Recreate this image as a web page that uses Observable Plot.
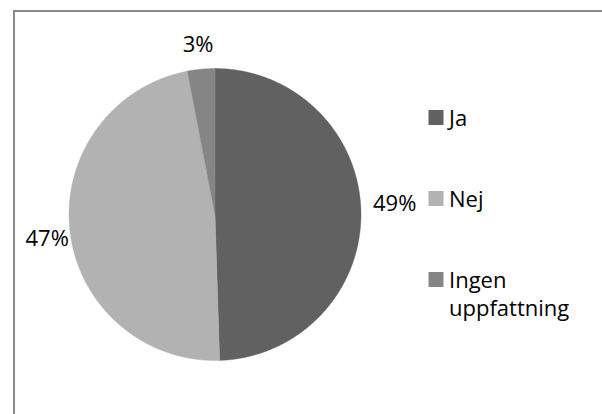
<!DOCTYPE html>
<html>
<head>
<meta charset="utf-8">
<script src="https://cdn.jsdelivr.net/npm/d3@7"></script>
<script src="https://cdn.jsdelivr.net/npm/@observablehq/plot@0.6"></script>
<style>
  body { margin: 0; background: #fff; }
  #chart { position: relative; width: 602px; height: 414px; overflow: hidden; font-family: "Open Sans", sans-serif; }
  #chart svg { position: absolute; left: 0; top: 0; }
  #frame { position: absolute; left: 13px; top: 10px; width: 700px; height: 500px; border: 2px solid #898989; }
</style>
</head>
<body>
<div id="chart"><div id="frame"></div></div>
<script>
// Survey answers and their shares (percent)
const categories = ["Ja", "Nej", "Ingen uppfattning"];
const shares = [49, 47, 3];
const colors = ["#616161", "#b2b2b2", "#858585"];

const rows = categories.map((category, i) => ({category, share: shares[i]}));

// Slice angles, clockwise from twelve o'clock
const slices = d3.pie().sort(null).value(d => d.share)(rows);

// Outline of each slice in unit-circle coordinates
const step = Math.PI / 720;
const outline = slices.flatMap(s => {
  const category = s.data.category;
  const n = Math.max(2, Math.ceil((s.endAngle - s.startAngle) / step));
  const pts = [{category, x: 0, y: 0}];
  for (let i = 0; i <= n; i++) {
    const a = s.startAngle + (s.endAngle - s.startAngle) * i / n;
    pts.push({category, x: Math.sin(a), y: Math.cos(a)});
  }
  return pts;
});

// Percent labels placed at the rim, in the direction of each slice's middle
const labels = slices.map(s => {
  const a = (s.startAngle + s.endAngle) / 2;
  const sx = Math.sin(a);
  return {
    text: `${s.data.share}%`,
    x: sx, y: Math.cos(a),
    side: sx > 0.3 ? "right" : sx < -0.3 ? "left" : "top"
  };
});

const labelFont = 22;
const textMark = (side, opts) => Plot.text(labels, {
  filter: d => d.side === side, x: "x", y: "y", text: "text",
  fontSize: labelFont, fill: "#000", ...opts
});

const svg = Plot.plot({
  width: 602,
  height: 414,
  marginLeft: 68.5,
  marginRight: 241.5,
  marginTop: 68,
  marginBottom: 54,
  x: {domain: [-1, 1], axis: null},
  y: {domain: [-1, 1], axis: null},
  color: {domain: categories, range: colors},
  style: {background: "transparent", fontFamily: "'Open Sans', sans-serif", overflow: "visible"},
  marks: [
    Plot.line(outline, {
      x: "x", y: "y", z: "category", fill: "category",
      stroke: "category", strokeWidth: 0.4, curve: "linear-closed"
    }),
    textMark("right", {textAnchor: "start", dx: 12, dy: -8}),
    textMark("left", {textAnchor: "end", dx: -1, dy: 8}),
    textMark("top", {textAnchor: "middle", dx: -3, dy: -24})
  ]
});

// Legend on the right: swatch plus (possibly wrapped) category name
const legendRows = [
  {lines: ["Ja"]},
  {lines: ["Nej"]},
  {lines: ["Ingen", "uppfattning"]}
];
const legend = d3.select(svg).append("g")
  .attr("font-family", "'Open Sans', sans-serif")
  .attr("font-size", labelFont)
  .attr("text-anchor", "start");
categories.forEach((c, i) => {
  const top = 110 + i * 81;
  legend.append("rect")
    .attr("x", 428.5).attr("y", top)
    .attr("width", 15).attr("height", 15)
    .attr("fill", colors[i]);
  const t = legend.append("text").attr("fill", "#000");
  legendRows[i].lines.forEach((line, j) => {
    t.append("tspan").attr("x", 449).attr("y", top + 16 + j * 28).text(line);
  });
});

document.getElementById("chart").prepend(svg);
</script>
</body>
</html>
